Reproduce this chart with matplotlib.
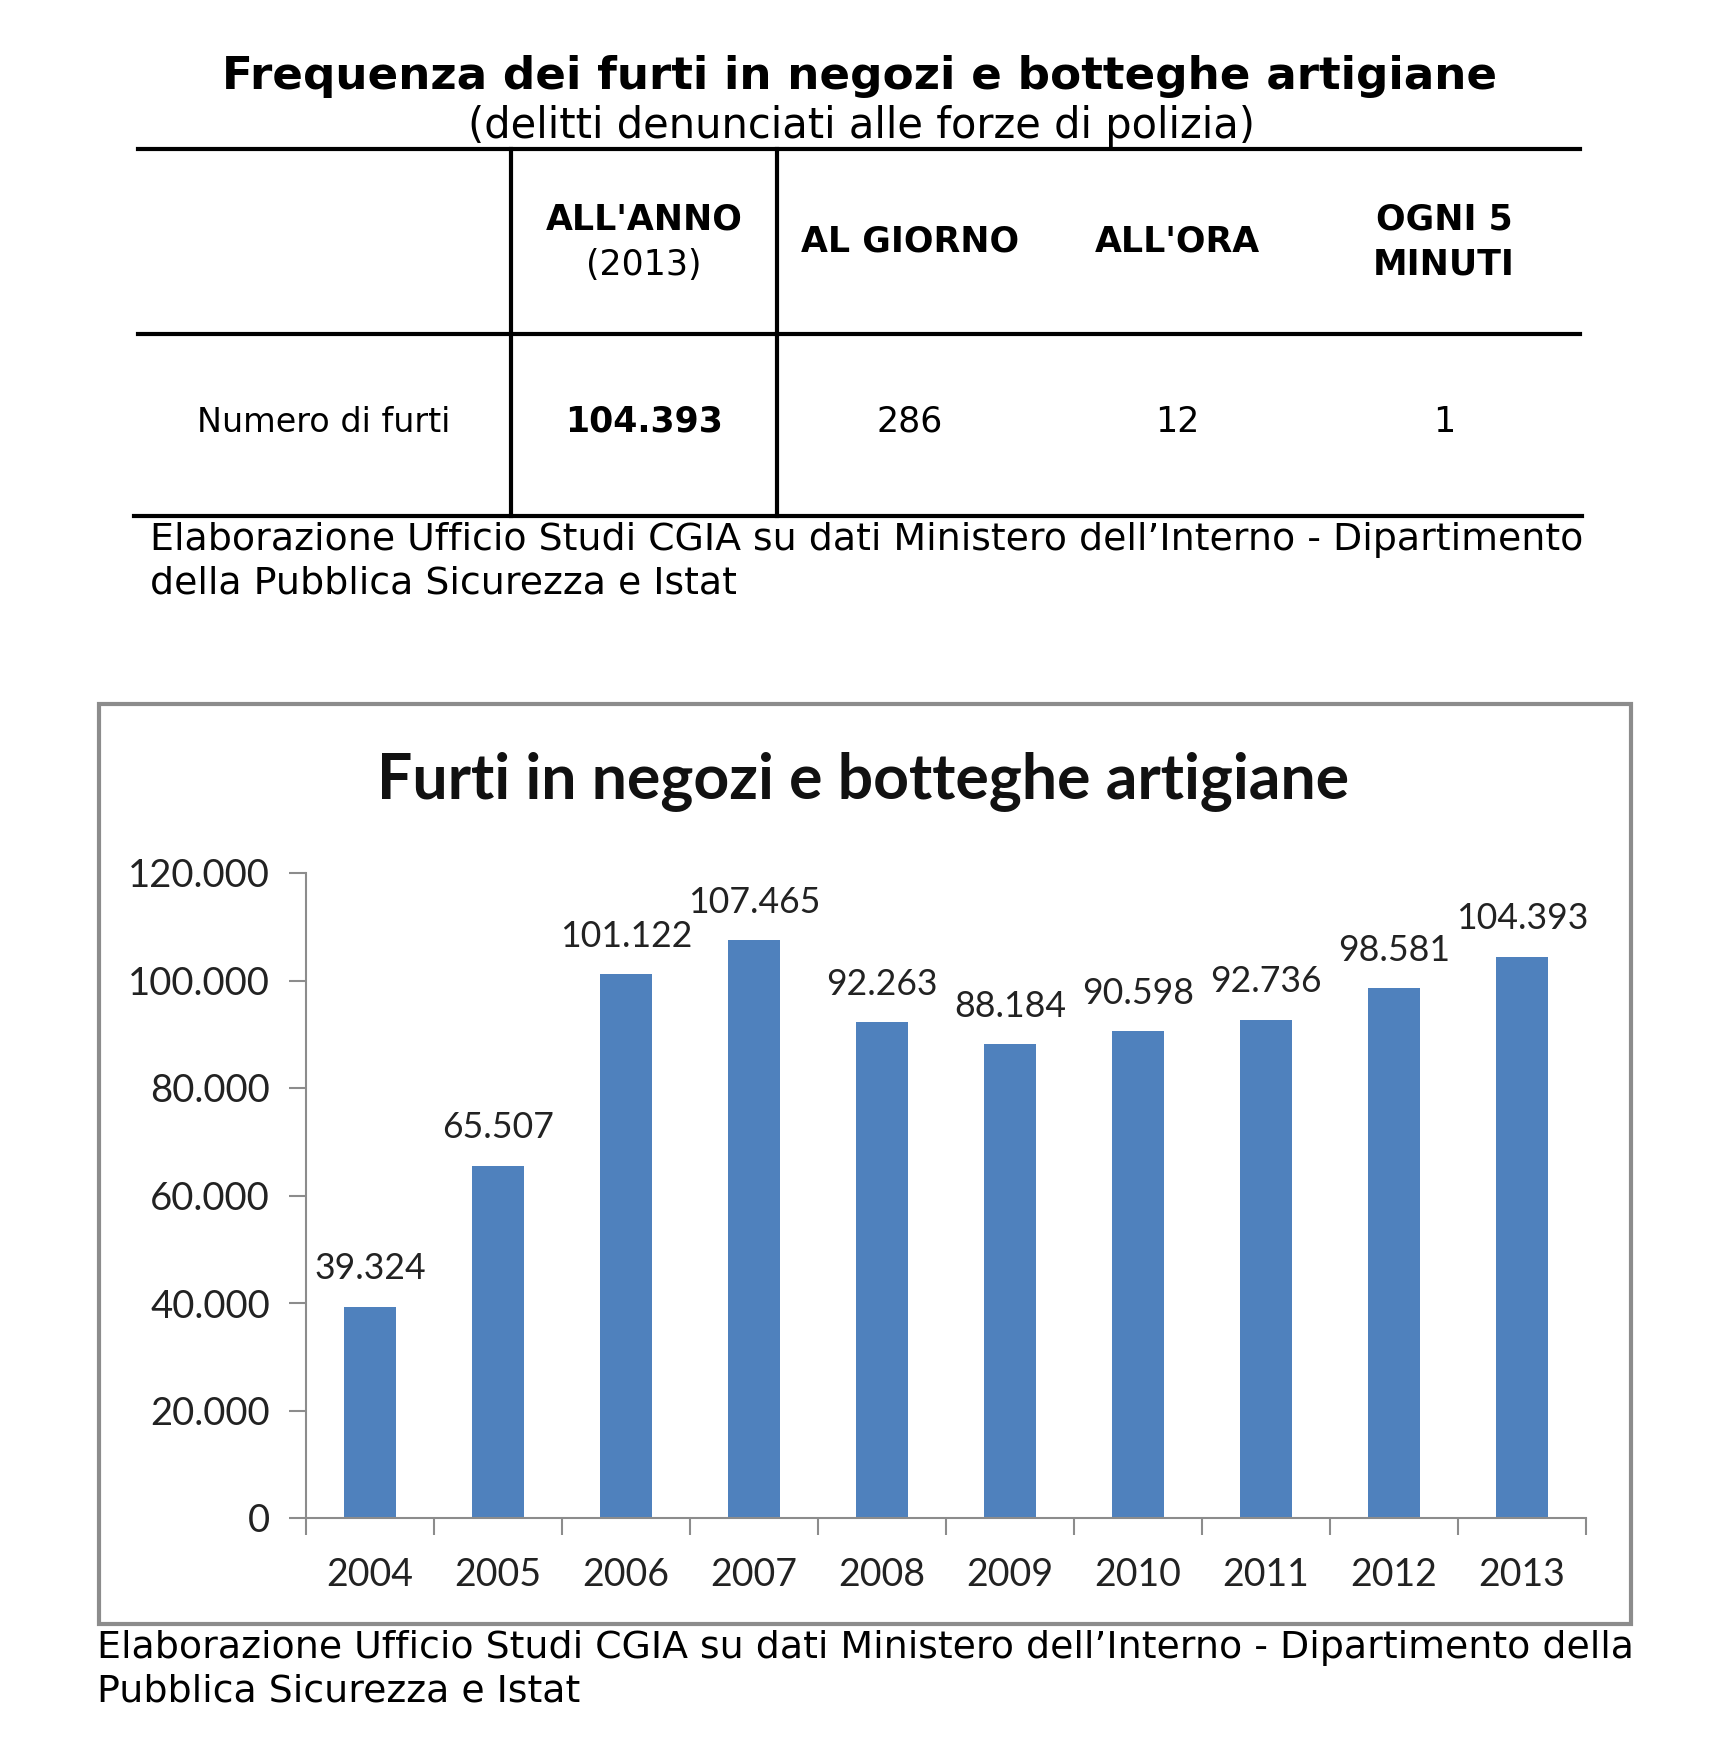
import matplotlib
matplotlib.use("Agg")
import matplotlib.pyplot as plt
from matplotlib.lines import Line2D
from matplotlib.patches import Rectangle

# table data
col_headers = ["ALL'ANNO", "AL GIORNO", "ALL'ORA", "OGNI 5\nMINUTI"]
row_label = "Numero di furti"
row_values = ["104.393", "286", "12", "1"]

# chart data
years = ["2004", "2005", "2006", "2007", "2008", "2009", "2010", "2011", "2012", "2013"]
furti = [39324, 65507, 101122, 107465, 92263, 88184, 90598, 92736, 98581, 104393]
y_ticks = [0, 20000, 40000, 60000, 80000, 100000, 120000]

source = ("Elaborazione Ufficio Studi CGIA su dati Ministero dell\u2019Interno - Dipartimento\n"
          "della Pubblica Sicurezza e Istat")
source2 = ("Elaborazione Ufficio Studi CGIA su dati Ministero dell\u2019Interno - Dipartimento della\n"
           "Pubblica Sicurezza e Istat")

W, H = 1712, 1762
fig = plt.figure(figsize=(W / 100, H / 100), dpi=100, facecolor='w')


def fx(px):
    return px / W


def fy(py):
    return 1 - py / H


def hline(x0, x1, y, lw=3):
    fig.add_artist(Line2D([fx(x0), fx(x1)], [fy(y), fy(y)], color='k', lw=lw))


def vline(x, y0, y1, lw=3):
    fig.add_artist(Line2D([fx(x), fx(x)], [fy(y0), fy(y1)], color='k', lw=lw))


# title block
fig.text(fx(860), fy(76), "Frequenza dei furti in negozi e botteghe artigiane",
         ha='center', va='center', fontsize=32.6, fontweight='bold', family='DejaVu Sans')
fig.text(fx(862), fy(126), "(delitti denunciati alle forze di polizia)",
         ha='center', va='center', fontsize=30, family='DejaVu Sans')

# table lines
hline(138, 1580, 149)
hline(138, 1580, 334)
hline(134, 1582, 516)
vline(511, 149, 516)
vline(777, 149, 516)

col_x = [644, 910, 1177, 1444]
for i, (h, v) in enumerate(zip(col_headers, row_values)):
    if i == 0:
        fig.text(fx(col_x[i]), fy(219), h, ha='center', va='center',
                 fontsize=25, fontweight='bold', family='DejaVu Sans')
        fig.text(fx(col_x[i]), fy(265), "(2013)", ha='center', va='center',
                 fontsize=25, family='DejaVu Sans')
    else:
        fig.text(fx(col_x[i]), fy(242), h, ha='center', va='center',
                 fontsize=25, fontweight='bold', family='DejaVu Sans', linespacing=1.4)
    fig.text(fx(col_x[i]), fy(422), v, ha='center', va='center', fontsize=25,
             fontweight='bold' if i == 0 else 'normal', family='DejaVu Sans')
fig.text(fx(324), fy(422), row_label, ha='center', va='center', fontsize=24,
         family='DejaVu Sans')

fig.text(fx(150), fy(562), source, ha='left', va='center', fontsize=27.3,
         family='DejaVu Sans', linespacing=1.25)

# chart frame
fig.add_artist(Rectangle((fx(99), fy(1624)), fx(1631) - fx(99), fy(704) - fy(1624),
                         fill=False, edgecolor='#8c8c8c', lw=3))
fig.text(fx(863), fy(781), "Furti in negozi e botteghe artigiane", ha='center',
         va='center', fontsize=45, fontweight='bold', family='Lato', color='#111111')

ax = fig.add_axes([fx(306), fy(1518), fx(1586) - fx(306), fy(873) - fy(1518)])
x = list(range(len(years)))
ax.bar(x, furti, width=0.4, color='#4F81BD', zorder=2)
ax.set_xlim(-0.5, len(years) - 0.5)
ax.set_ylim(0, 120000)
ax.set_yticks(y_ticks)
ax.set_yticklabels([f"{v:,}".replace(",", ".") for v in y_ticks])
ax.set_xticks(x)
ax.set_xticklabels(years)
ax.set_xticks([i - 0.5 for i in range(len(years) + 1)], minor=True)
ax.tick_params(axis='x', which='major', length=0, pad=28)
ax.tick_params(axis='x', which='minor', length=12, width=1.5, color='#8c8c8c')
ax.tick_params(axis='y', length=12, width=1.5, color='#8c8c8c', pad=14)
for lab in ax.get_yticklabels():
    lab.set_fontsize(27.5)
    lab.set_family('Lato')
    lab.set_color('#222222')
for lab in ax.get_xticklabels():
    lab.set_fontsize(27)
    lab.set_family('Lato')
    lab.set_color('#222222')
for s in ['top', 'right']:
    ax.spines[s].set_visible(False)
for s in ['left', 'bottom']:
    ax.spines[s].set_color('#8c8c8c')
    ax.spines[s].set_linewidth(1.5)

for xi, v in zip(x, furti):
    ax.text(xi, v + 4000, f"{v:,}".replace(",", "."), ha='center', va='bottom',
            fontsize=25.7, family='Lato', color='#222222')

fig.text(fx(97), fy(1670), source2, ha='left', va='center', fontsize=27.3,
         family='DejaVu Sans', linespacing=1.25)

fig.savefig("out.png", dpi=100, facecolor='w')
